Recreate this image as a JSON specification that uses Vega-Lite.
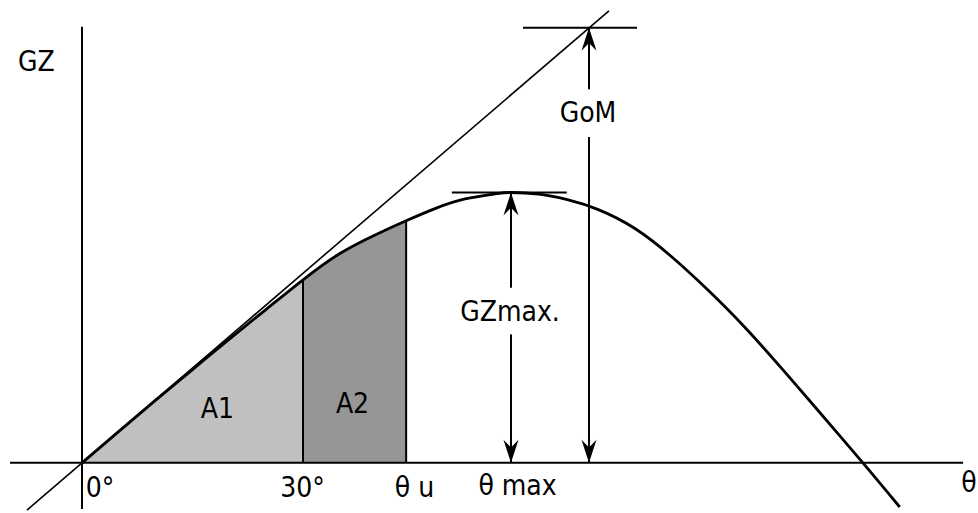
{
  "$schema": "https://vega.github.io/schema/vega-lite/v6.json",
  "width": 978,
  "height": 513,
  "autosize": {"type": "fit", "contains": "padding"},
  "padding": 0,
  "background": "white",
  "config": {"view": {"stroke": null}},
  "datasets": {
    "curve": [
      {"deg": 0, "gz": 0}, {"deg": 5, "gz": 0.0635}, {"deg": 10, "gz": 0.1265}, {"deg": 15, "gz": 0.188},
      {"deg": 20, "gz": 0.2495}, {"deg": 25, "gz": 0.3095}, {"deg": 30, "gz": 0.369}, {"deg": 35, "gz": 0.422},
      {"deg": 40, "gz": 0.461}, {"deg": 44, "gz": 0.488}, {"deg": 48, "gz": 0.513}, {"deg": 52, "gz": 0.532},
      {"deg": 56, "gz": 0.542}, {"deg": 58.2, "gz": 0.545}, {"deg": 62, "gz": 0.5415}, {"deg": 66, "gz": 0.53},
      {"deg": 70, "gz": 0.511}, {"deg": 75, "gz": 0.473}, {"deg": 80, "gz": 0.416}, {"deg": 85, "gz": 0.348},
      {"deg": 90, "gz": 0.273}, {"deg": 95, "gz": 0.19}, {"deg": 100, "gz": 0.104}, {"deg": 106, "gz": 0},
      {"deg": 111, "gz": -0.089}
    ],
    "areas": [
      {"deg": 0, "gz": 0, "part": "A1"}, {"deg": 5, "gz": 0.0635, "part": "A1"}, {"deg": 10, "gz": 0.1265, "part": "A1"},
      {"deg": 15, "gz": 0.188, "part": "A1"}, {"deg": 20, "gz": 0.2495, "part": "A1"}, {"deg": 25, "gz": 0.3095, "part": "A1"},
      {"deg": 30, "gz": 0.369, "part": "A1"},
      {"deg": 30, "gz": 0.369, "part": "A2"}, {"deg": 35, "gz": 0.422, "part": "A2"}, {"deg": 40, "gz": 0.461, "part": "A2"},
      {"deg": 44, "gz": 0.488, "part": "A2"}
    ],
    "segments": [
      {"kind": "axis", "x": -9.77, "y": 0, "x2": 119.6, "y2": 0},
      {"kind": "axis", "x": 0, "y": 0.879, "x2": 0, "y2": -0.093},
      {"kind": "tangent", "x": -7.47, "y": -0.0952, "x2": 71.53, "y2": 0.9112},
      {"kind": "dim", "x": 30, "y": 0, "x2": 30, "y2": 0.369},
      {"kind": "dim", "x": 44, "y": 0, "x2": 44, "y2": 0.488},
      {"kind": "dim", "x": 50.2, "y": 0.545, "x2": 65.8, "y2": 0.545},
      {"kind": "dim", "x": 59.86, "y": 0.877, "x2": 75.34, "y2": 0.877},
      {"kind": "dim", "x": 58.23, "y": 0, "x2": 58.23, "y2": 0.259},
      {"kind": "dim", "x": 58.23, "y": 0.353, "x2": 58.23, "y2": 0.545},
      {"kind": "dim", "x": 68.82, "y": 0, "x2": 68.82, "y2": 0.657},
      {"kind": "dim", "x": 68.82, "y": 0.753, "x2": 68.82, "y2": 0.877}
    ],
    "arrows": [
      {"x": 58.23, "y": 0.545, "dir": "up"}, {"x": 68.82, "y": 0.877, "dir": "up"},
      {"x": 58.23, "y": 0, "dir": "down"}, {"x": 68.82, "y": 0, "dir": "down"}
    ],
    "labels": [
      {"x": -6.18, "y": 0.806, "label": "GZ"},
      {"x": 18.39, "y": 0.107, "label": "A1"},
      {"x": 36.72, "y": 0.117, "label": "A2"},
      {"x": 2.44, "y": -0.053, "label": "0°"},
      {"x": 29.93, "y": -0.053, "label": "30°"},
      {"x": 45.13, "y": -0.053, "label": "θ u"},
      {"x": 59.12, "y": -0.049, "label": "θ max"},
      {"x": 120.4, "y": -0.043, "label": "θ"},
      {"x": 58.1, "y": 0.303, "label": "GZmax."},
      {"x": 68.68, "y": 0.703, "label": "GoM"}
    ]
  },
  "layer": [
    {
      "data": {"name": "areas"},
      "mark": {"type": "area", "interpolate": "monotone"},
      "encoding": {
        "x": {"field": "deg", "type": "quantitative", "scale": {"domain": [-11.131, 121.624], "nice": false, "zero": false}, "axis": null},
        "y": {"field": "gz", "type": "quantitative", "scale": {"domain": [-0.093, 0.933], "nice": false, "zero": false}, "axis": null},
        "y2": {"datum": 0},
        "color": {"field": "part", "type": "nominal", "scale": {"domain": ["A1", "A2"], "range": ["#c0c0c0", "#969696"]}, "legend": null},
        "detail": {"field": "part"}
      }
    },
    {
      "data": {"name": "segments"},
      "transform": [{"filter": "datum.kind === 'axis'"}],
      "mark": {"type": "rule", "color": "black", "strokeWidth": 2},
      "encoding": {
        "x": {"field": "x", "type": "quantitative"},
        "y": {"field": "y", "type": "quantitative"},
        "x2": {"field": "x2"},
        "y2": {"field": "y2"}
      }
    },
    {
      "data": {"name": "segments"},
      "transform": [{"filter": "datum.kind === 'tangent'"}],
      "mark": {"type": "rule", "color": "black", "strokeWidth": 1.6},
      "encoding": {
        "x": {"field": "x", "type": "quantitative"},
        "y": {"field": "y", "type": "quantitative"},
        "x2": {"field": "x2"},
        "y2": {"field": "y2"}
      }
    },
    {
      "data": {"name": "segments"},
      "transform": [{"filter": "datum.kind === 'dim'"}],
      "mark": {"type": "rule", "color": "black", "strokeWidth": 2},
      "encoding": {
        "x": {"field": "x", "type": "quantitative"},
        "y": {"field": "y", "type": "quantitative"},
        "x2": {"field": "x2"},
        "y2": {"field": "y2"}
      }
    },
    {
      "data": {"name": "curve"},
      "mark": {"type": "line", "interpolate": "natural", "color": "black", "strokeWidth": 2.8},
      "encoding": {
        "x": {"field": "deg", "type": "quantitative"},
        "y": {"field": "gz", "type": "quantitative"}
      }
    },
    {
      "data": {"name": "arrows"},
      "transform": [{"filter": "datum.dir === 'up'"}],
      "mark": {"type": "point", "shape": "M0,0L0.49,1.5L0,1L-0.49,1.5Z", "filled": true, "size": 940, "color": "black", "opacity": 1, "strokeWidth": 0},
      "encoding": {
        "x": {"field": "x", "type": "quantitative"},
        "y": {"field": "y", "type": "quantitative"}
      }
    },
    {
      "data": {"name": "arrows"},
      "transform": [{"filter": "datum.dir === 'down'"}],
      "mark": {"type": "point", "shape": "M0,0L0.49,-1.5L0,-1L-0.49,-1.5Z", "filled": true, "size": 940, "color": "black", "opacity": 1, "strokeWidth": 0},
      "encoding": {
        "x": {"field": "x", "type": "quantitative"},
        "y": {"field": "y", "type": "quantitative"}
      }
    },
    {
      "data": {"name": "labels"},
      "mark": {"type": "text", "font": "DejaVu Sans Condensed, DejaVu Sans, sans-serif", "fontSize": 28, "align": "center", "baseline": "middle", "color": "black"},
      "encoding": {
        "x": {"field": "x", "type": "quantitative"},
        "y": {"field": "y", "type": "quantitative"},
        "text": {"field": "label"}
      }
    }
  ]
}
